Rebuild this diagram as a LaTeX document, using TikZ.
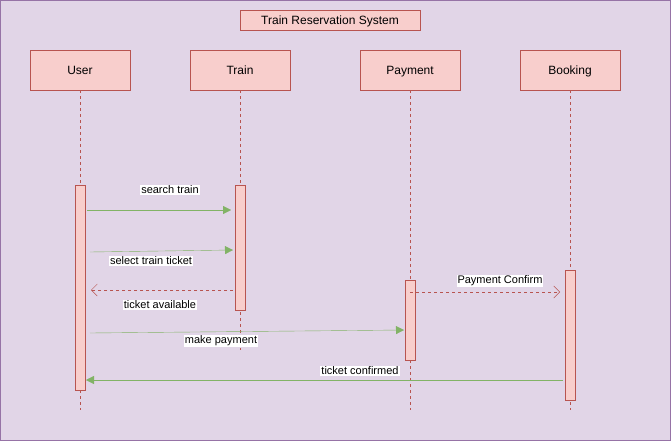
\documentclass[tikz,border=0pt]{standalone}
\usepackage{fontspec}
\setmainfont{Liberation Sans}
\usetikzlibrary{arrows.meta}
\definecolor{bgc}{HTML}{E1D5E7}
\definecolor{bgs}{HTML}{9673A6}
\definecolor{boxf}{HTML}{F8CECC}
\definecolor{boxs}{HTML}{B85450}
\definecolor{grn}{HTML}{82B366}
\begin{document}
\begin{tikzpicture}[x=1pt,y=-1pt,
  actor/.style={draw=boxs,fill=boxf,minimum width=100pt,minimum height=40pt,inner sep=0pt,text height=8.6pt,text depth=0.4pt,font=\fontsize{12}{14}\selectfont},
  bar/.style={draw=boxs,fill=boxf,minimum width=10pt,inner sep=0pt},
  life/.style={draw=boxs,dash pattern=on 3pt off 3pt},
  msg/.style={draw=grn,-{Triangle[length=8pt,width=8pt]},fill=none},
  ret/.style={draw=boxs,dash pattern=on 3pt off 3pt,-{Straight Barb[length=6pt,width=12pt]}},
  lbl/.style={fill=white,inner sep=1pt,font=\fontsize{11}{13}\selectfont}]
\useasboundingbox (0,0) rectangle (671,441);
\draw[fill=bgc,draw=bgs] (0.5,0.5) rectangle (670.5,440.5);
\node[actor,minimum width=180pt,minimum height=20pt] (title) at (330,20) {Train Reservation System};
\node[actor] (user) at (80,70) {User};
\node[actor] (train) at (240,70) {Train};
\node[actor] (pay) at (410,70) {Payment};
\node[actor] (book) at (570,70) {Booking};
\coordinate (ue) at (80,410);
\coordinate (te) at (240,350);
\coordinate (pe) at (410,410);
\coordinate (be) at (570,410);
\draw[life] (user) -- (ue);
\draw[life] (train) -- (te);
\draw[life] (pay) -- (pe);
\draw[life] (book) -- (be);
\node[bar,minimum height=205pt] (ub) at (80,287.5) {};
\node[bar,minimum height=125pt] (tb) at (240,247.5) {};
\node[bar,minimum height=80pt] (pb) at (410,320) {};
\node[bar,minimum height=130pt] (bb) at (570,335) {};
\coordinate (m1s) at (87,210); \coordinate (m1e) at (231,210);
\draw[msg] (m1s) -- (m1e);
\node[lbl] (l1) at (170,190) {search train};
\coordinate (m2s) at (90,252); \coordinate (m2e) at (233,250);
\draw[msg] (m2s) -- (m2e);
\node[lbl] (l2) at (151,261) {select train ticket};
\coordinate (m3s) at (233,290); \coordinate (m3e) at (91,290);
\draw[ret] (m3s) -- (m3e);
\node[lbl] (l3) at (160,305) {ticket available};
\coordinate (m4s) at (410,292); \coordinate (m4e) at (560,292);
\draw[ret] (m4s) -- (m4e);
\node[lbl] (l4) at (500,281) {Payment Confirm};
\coordinate (m5s) at (90,333); \coordinate (m5e) at (404,330);
\draw[msg] (m5s) -- (m5e);
\node[lbl] (l5) at (221,341) {make payment};
\coordinate (m6s) at (563,380); \coordinate (m6e) at (86,380);
\draw[msg] (m6s) -- (m6e);
\node[lbl] (l6) at (360,371) {ticket confirmed};
\end{tikzpicture}
\end{document}
